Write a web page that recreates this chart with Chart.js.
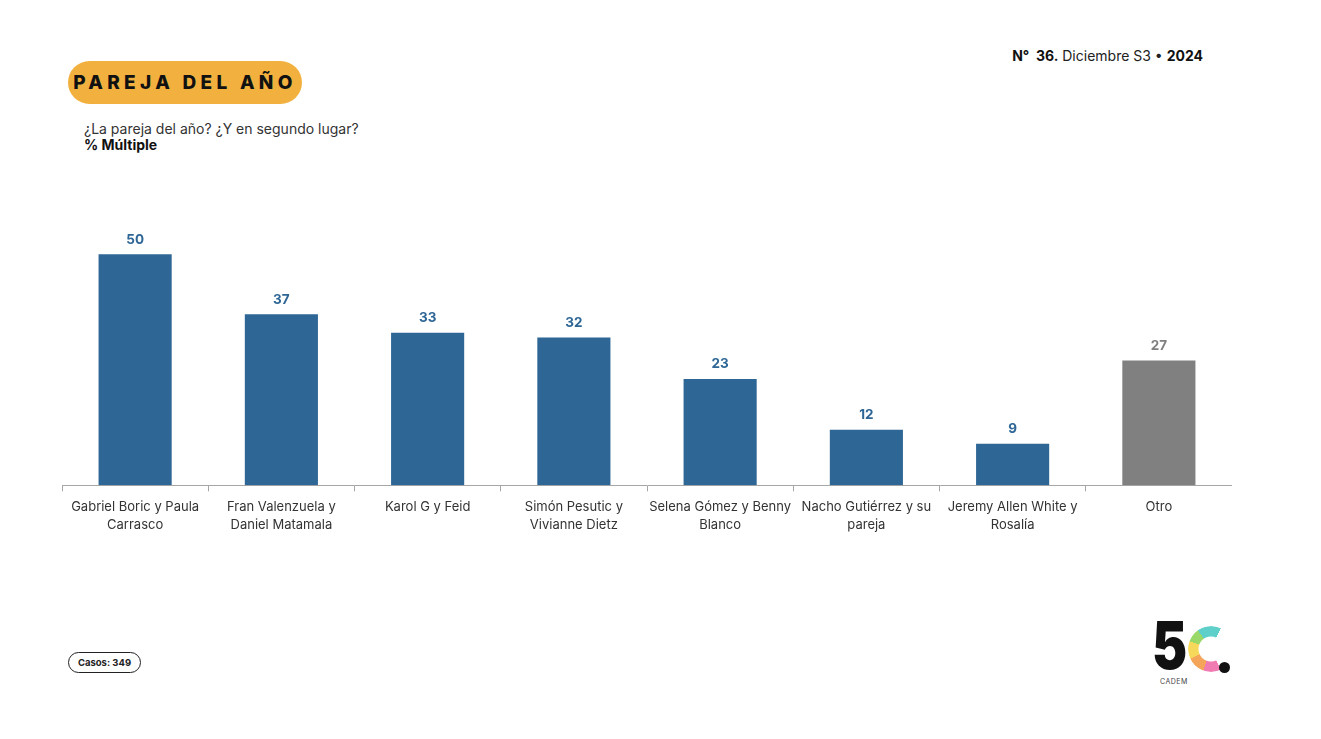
<!DOCTYPE html>
<html lang="es">
<head>
<meta charset="utf-8">
<title>Pareja del año</title>
<script src="https://cdn.jsdelivr.net/npm/chart.js@4.4.1/dist/chart.umd.min.js"></script>
<style>
  body { margin:0; width:1321px; height:739px; background:#fff; position:relative; overflow:hidden;
         font-family: Inter, "Open Sans", sans-serif; color:#222; }
  .pill { position:absolute; left:68px; top:61px; width:234px; height:43px; border-radius:22px;
          background:#f2b13f; font-weight:800; font-size:19px; letter-spacing:4.3px; white-space:nowrap;
          line-height:43px; text-align:center; color:#111; }
  .sub { position:absolute; left:84px; top:121px; font-size:14px; line-height:16px; color:#333; }
  .sub b { color:#111; }
  .num { position:absolute; right:118px; top:47px; font-size:14px; color:#222; }
  .num b { font-weight:700; color:#111; }
  .casos { position:absolute; left:68px; top:652px; width:71px; height:19px; border:1.3px solid #222;
           border-radius:11px; font-size:9.5px; font-weight:700; text-align:center; line-height:19px; }
  #wrap { position:absolute; left:62px; top:208px; width:1170px; height:333px; }
  .logo5 { position:absolute; left:1152px; top:612px; font-size:66px; font-weight:900; line-height:66px; color:#111;
           transform:scaleX(0.8); transform-origin:left top; }
  .logoC { position:absolute; left:1188px; top:626px; width:46px; height:46px; border-radius:50%;
           background:conic-gradient(from 0deg, #5fd0c9 0deg 25deg, #fff 25deg 155deg, #f07bb2 155deg 200deg,
           #f5a55a 200deg 245deg, #f6d85a 245deg 290deg, #9bd86a 290deg 325deg, #5fd0c9 325deg 360deg);
           -webkit-mask: radial-gradient(circle, transparent 12px, #000 13px);
           mask: radial-gradient(circle, transparent 12px, #000 13px); }
  .dot { position:absolute; left:1219px; top:662px; width:11px; height:11px; border-radius:50%; background:#111; }
  .cadem { position:absolute; left:1160px; top:677px; font-size:7px; color:#444; letter-spacing:0.5px; }
</style>
</head>
<body>
<div class="pill">PAREJA DEL AÑO</div>
<div class="sub">¿La pareja del año? ¿Y en segundo lugar?<br><b>% Múltiple</b></div>
<div class="num"><b>N°&nbsp; 36.</b> Diciembre S3 • <b>2024</b></div>
<div id="wrap"><canvas id="chart"></canvas></div>
<div class="casos">Casos: 349</div>
<div class="logo5">5</div>
<div class="logoC"></div>
<div class="dot"></div>
<div class="cadem">CADEM</div>

<script>
// ── Datos ──
const categorias = [
  ['Gabriel Boric y Paula', 'Carrasco'],
  ['Fran Valenzuela y', 'Daniel Matamala'],
  'Karol G y Feid',
  ['Simón Pesutic y', 'Vivianne Dietz'],
  ['Selena Gómez y Benny', 'Blanco'],
  ['Nacho Gutiérrez y su', 'pareja'],
  ['Jeremy Allen White y', 'Rosalía'],
  'Otro'
];
const valores = [50, 37, 33, 32, 23, 12, 9, 27];

const AZUL = '#2e6696';
const GRIS = '#808080';
const colores = valores.map((v, i) => i === valores.length - 1 ? GRIS : AZUL);

// ── Etiquetas de valor sobre las barras ──
const etiquetas = {
  id: 'etiquetas',
  afterDatasetsDraw(chart) {
    const ctx = chart.ctx;
    const meta = chart.getDatasetMeta(0);
    ctx.save();
    ctx.font = '700 13.5px Inter, sans-serif';
    ctx.textAlign = 'center';
    ctx.textBaseline = 'bottom';
    meta.data.forEach((bar, i) => {
      ctx.fillStyle = colores[i];
      ctx.fillText(valores[i], bar.x, bar.y - 8);
    });
    ctx.restore();
  }
};

new Chart(document.getElementById('chart'), {
  type: 'bar',
  data: {
    labels: categorias,
    datasets: [{
      data: valores,
      backgroundColor: colores,
      categoryPercentage: 1,
      barPercentage: 0.5
    }]
  },
  options: {
    responsive: true,
    maintainAspectRatio: false,
    animation: false,
    layout: { padding: 0 },
    plugins: { legend: { display: false }, tooltip: { enabled: false } },
    scales: {
      x: {
        border: { display: true, color: '#a6a6a6', width: 1 },
        grid: { display: true, drawOnChartArea: false, drawTicks: true, tickLength: 6, color: '#a6a6a6' },
        ticks: { color: '#333', font: { family: 'Inter, sans-serif', size: 13, lineHeight: 1.45 },
                 padding: 6, maxRotation: 0, autoSkip: false }
      },
      y: { display: false, min: 0, max: 60 }
    }
  },
  plugins: [etiquetas]
});
</script>
</body>
</html>
